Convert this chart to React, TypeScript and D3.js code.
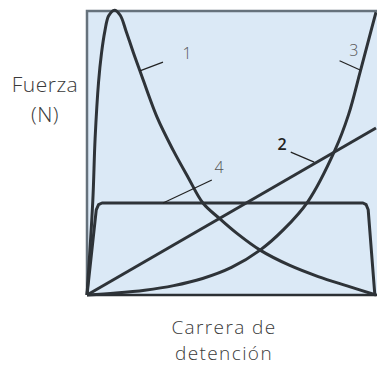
import { useEffect, useRef } from "react";
import * as d3 from "d3";

// curve points, x = stopping distance (0-100), y = force (0-100)
const curve1 = [
  [0, 0], [2, 33], [2.8, 55], [4, 75], [5, 85], [6.2, 93], [7.5, 98.3], [9.5, 100.3],
  [11.5, 98.5], [13.5, 93], [16, 85.5], [18.3, 79], [24.2, 62.7], [29.8, 51],
  [35, 41.4], [40.1, 32.4], [46, 26.8], [52, 21.6], [59.9, 15.8], [70, 10.5],
  [80, 6.5], [90, 3.2], [100, 0],
];
const curve2 = [[0, 0], [100, 58.8]];
const curve3 = [
  [0, 0], [10, 0.7], [20, 1.7], [30, 3.3], [40, 5.8], [50, 9.7], [59.9, 15.8],
  [68, 23], [76.5, 33], [85.8, 51], [90.5, 63.5], [94.5, 78.5], [97.5, 90],
  [100, 99.6],
];
const curve4 = [
  [0, 0], [3.2, 30], [4, 31.8], [5.2, 32.4], [95.5, 32.4], [96.6, 31.8],
  [97.3, 30], [99.6, 0],
];

const series = [curve1, curve2, curve3, curve4];

// label text, label position, leader start, leader end (all in data units)
const labelNames = ["1", "2", "3", "4"];
const labelPos = [[34.6, 83], [67.5, 51], [92.3, 84], [45.7, 43]];
const leaderFrom = [[26.3, 82], [70.5, 50.3], [87.4, 82.5], [43.2, 40.5]];
const leaderTo = [[18.3, 78.9], [78.6, 46.8], [94.5, 79.2], [26.3, 32.4]];

const yLabel = ["Fuerza", "(N)"];
const xLabel = ["Carrera de", "detención"];

export default function App() {
  const svgRef = useRef<SVGSVGElement>(null);

  useEffect(() => {
    const width = 377;
    const height = 365;
    const plot = { left: 87, right: 377, top: 11, bottom: 295 };

    const svg = d3.select(svgRef.current)
      .attr("width", width)
      .attr("height", height);

    svg.selectAll("*").remove();

    const x = d3.scaleLinear().domain([0, 100]).range([plot.left, plot.right - 1]);
    const y = d3.scaleLinear().domain([0, 100]).range([plot.bottom, plot.top]);

    // plot background
    svg.append("rect")
      .attr("x", plot.left)
      .attr("y", plot.top)
      .attr("width", plot.right - plot.left)
      .attr("height", plot.bottom - plot.top)
      .attr("fill", "#dbe9f6");

    // frame: top and left edges grey
    svg.append("path")
      .attr("d", `M${plot.left},${plot.bottom}V${plot.top}H${plot.right}`)
      .attr("fill", "none")
      .attr("stroke", "#66727c")
      .attr("stroke-width", 2.5);

    svg.append("line")
      .attr("x1", plot.left).attr("x2", plot.right)
      .attr("y1", plot.bottom).attr("y2", plot.bottom)
      .attr("stroke", "#2c3034")
      .attr("stroke-width", 2.5);

    const smooth = d3.line<number[]>()
      .x(d => x(d[0]))
      .y(d => y(d[1]))
      .curve(d3.curveCatmullRom.alpha(0.5));

    const straight = d3.line<number[]>()
      .x(d => x(d[0]))
      .y(d => y(d[1]));

    svg.selectAll(".curve")
      .data(series)
      .join("path")
      .attr("class", "curve")
      .attr("fill", "none")
      .attr("stroke", "#2e3338")
      .attr("stroke-width", 3)
      .attr("stroke-linejoin", "round")
      .attr("d", (d, i) => (i === 3 || i === 1 ? straight(d) : smooth(d)));

    // leader lines
    svg.selectAll(".leader")
      .data(labelNames)
      .join("line")
      .attr("class", "leader")
      .attr("x1", (d, i) => x(leaderFrom[i][0]))
      .attr("y1", (d, i) => y(leaderFrom[i][1]))
      .attr("x2", (d, i) => x(leaderTo[i][0]))
      .attr("y2", (d, i) => y(leaderTo[i][1]))
      .attr("stroke", "#222")
      .attr("stroke-width", 1.2);

    svg.selectAll(".lbl")
      .data(labelNames)
      .join("text")
      .attr("class", "lbl")
      .attr("x", (d, i) => x(labelPos[i][0]))
      .attr("y", (d, i) => y(labelPos[i][1]))
      .attr("text-anchor", "middle")
      .attr("font-family", "Open Sans, sans-serif")
      .attr("font-size", 16)
      .attr("font-weight", (d) => (d === "2" ? 600 : 300))
      .attr("fill", (d) => (d === "2" ? "#222" : "#555"))
      .text(d => d);

    // axis titles
    svg.append("text")
      .attr("text-anchor", "middle")
      .attr("font-family", "Open Sans, sans-serif")
      .attr("font-weight", 300)
      .attr("font-size", 21)
      .attr("letter-spacing", 0.5)
      .attr("fill", "#3a3a3a")
      .selectAll("tspan")
      .data(yLabel)
      .join("tspan")
      .attr("x", 45)
      .attr("y", (d, i) => 92 + i * 30)
      .text(d => d);

    svg.append("text")
      .attr("text-anchor", "middle")
      .attr("font-family", "Open Sans, sans-serif")
      .attr("font-weight", 300)
      .attr("font-size", 19)
      .attr("letter-spacing", 1.4)
      .attr("fill", "#3a3a3a")
      .selectAll("tspan")
      .data(xLabel)
      .join("tspan")
      .attr("x", 224)
      .attr("y", (d, i) => 334 + i * 26)
      .text(d => d);
  }, []);

  return <svg ref={svgRef} style={{ position: "absolute", left: 0, top: 0 }}></svg>;
}
